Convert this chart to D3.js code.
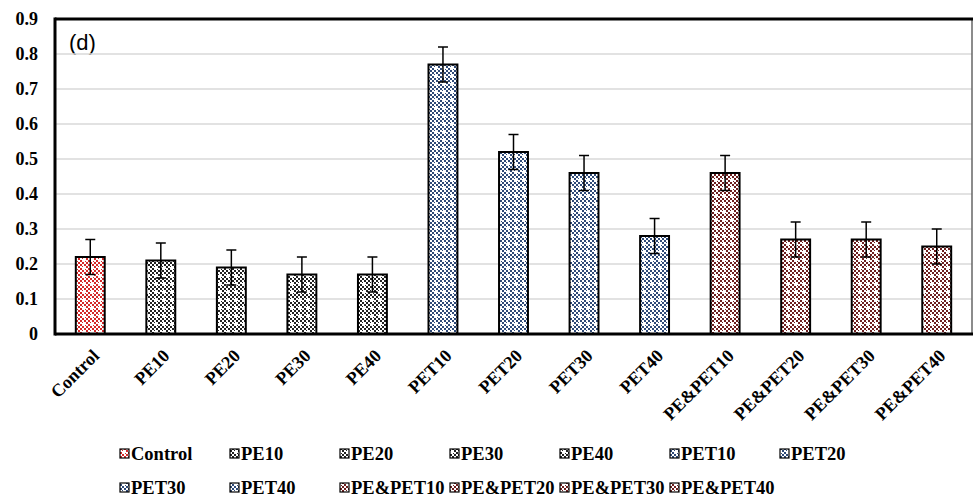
<!DOCTYPE html>
<html><head><meta charset="utf-8">
<script src="https://cdn.jsdelivr.net/npm/d3@7"></script>
</head><body style="margin:0">
<svg id="c" width="975" height="499" font-family="Liberation Serif, Tinos, Times New Roman"></svg>
<script>
const categories = ["Control","PE10","PE20","PE30","PE40","PET10","PET20","PET30","PET40","PE&PET10","PE&PET20","PE&PET30","PE&PET40"];
const values = [0.22,0.21,0.19,0.17,0.17,0.77,0.52,0.46,0.28,0.46,0.27,0.27,0.25];
const errors = [0.05,0.05,0.05,0.05,0.05,0.05,0.05,0.05,0.05,0.05,0.05,0.05,0.05];
const groups = ["ctrl","pe","pe","pe","pe","pet","pet","pet","pet","mix","mix","mix","mix"];
const yTicks = [0,0.1,0.2,0.3,0.4,0.5,0.6,0.7,0.8,0.9];
const groupColors = {ctrl:"#d42a2a", pe:"#222222", pet:"#2f4a78", mix:"#6e1f1f"};

const SERIF = "Liberation Serif, Tinos, Times New Roman";
const svg = d3.select("#c");
const m = {l:55, t:19, r:972, b:334};
const x = d3.scaleBand().domain(categories).range([m.l, m.r]).paddingInner(0.59).paddingOuter(0.295);
const y = d3.scaleLinear().domain([0,0.9]).range([m.b, m.t]);

// legend first (text)
const lg = svg.append("g");
categories.forEach((c,i) => {
  const col = i%7, row = Math.floor(i/7);
  const lx = 120 + col*110, ly = 454 + row*34;
  lg.append("text").attr("x",lx+11).attr("y",ly).attr("dy","0.35em")
    .attr("font-family",SERIF).attr("font-weight","bold").attr("font-size",18.5).text(c);
  lg.append("rect").attr("x",lx).attr("y",ly-5).attr("width",9).attr("height",9)
    .attr("fill",`url(#p_${groups[i]})`).attr("stroke","#000").attr("stroke-width",1.2);
});

// x labels
const xa = svg.append("g");
categories.forEach((c,i) => {
  const cx = x(c)+x.bandwidth()/2;
  xa.append("text").attr("transform",`translate(${cx+1},${m.b+14}) rotate(-45)`)
    .attr("text-anchor","end").attr("dy","0.7em")
    .attr("font-family",SERIF).attr("font-weight","bold").attr("font-size",18).text(c);
});

// y labels
const yAxis = d3.axisLeft(y).tickValues(yTicks).tickSize(0).tickPadding(17).tickFormat(d=>d===0?"0":d3.format(".1f")(d));
const ya = svg.append("g").attr("transform",`translate(${m.l},0)`).call(yAxis);
ya.select(".domain").remove();
ya.attr("font-family",SERIF).attr("font-size",18).attr("font-weight","bold");
ya.selectAll("text").attr("fill","#000");

// panel label
svg.append("text").attr("x",69).attr("y",50).attr("font-family","Liberation Sans, Arimo, Arial").attr("font-size",22).text("(d)");

// grid
svg.append("g").selectAll("line").data(yTicks.filter(t=>t>0 && t<0.9)).join("line")
  .attr("x1",m.l).attr("x2",m.r).attr("y1",d=>y(d)).attr("y2",d=>y(d))
  .attr("stroke","#d9d9d9").attr("stroke-width",1.5);

// bars
const bars = svg.append("g");
categories.forEach((c,i) => {
  bars.append("rect").attr("x",x(c)).attr("y",y(values[i])).attr("width",x.bandwidth())
    .attr("height",y(0)-y(values[i])).attr("fill",`url(#p_${groups[i]})`)
    .attr("stroke","#000").attr("stroke-width",2);
});
// error bars
const eb = svg.append("g").attr("stroke","#000").attr("stroke-width",1.5);
categories.forEach((c,i) => {
  const cx = x(c)+x.bandwidth()/2;
  eb.append("line").attr("x1",cx).attr("x2",cx).attr("y1",y(values[i]-errors[i])).attr("y2",y(values[i]+errors[i]));
  [values[i]-errors[i], values[i]+errors[i]].forEach(v =>
    eb.append("line").attr("x1",cx-5).attr("x2",cx+5).attr("y1",y(v)).attr("y2",y(v)));
});

// frame
svg.append("line").attr("x1",m.r).attr("x2",m.r).attr("y1",m.t).attr("y2",m.b).attr("stroke","#666").attr("stroke-width",1.5);
svg.append("line").attr("x1",m.l).attr("x2",m.r+1).attr("y1",m.t).attr("y2",m.t).attr("stroke","#000").attr("stroke-width",3);
svg.append("line").attr("x1",m.l).attr("x2",m.l).attr("y1",m.t-1.5).attr("y2",m.b+1.5).attr("stroke","#000").attr("stroke-width",3);
svg.append("line").attr("x1",m.l).attr("x2",m.r+1).attr("y1",m.b).attr("y2",m.b).attr("stroke","#000").attr("stroke-width",3);

// patterns
const defs = svg.append("defs");
Object.entries(groupColors).forEach(([k,c]) => {
  const p = defs.append("pattern").attr("id","p_"+k).attr("patternUnits","userSpaceOnUse")
    .attr("width",8).attr("height",8);
  p.append("rect").attr("width",8).attr("height",8).attr("fill","#fff");
  for (let i=0;i<4;i++) for (let j=0;j<4;j++) if ((i+j)%2===0)
    p.append("rect").attr("x",i*2).attr("y",j*2).attr("width",2).attr("height",2).attr("fill",c);
  p.append("rect").attr("x",3).attr("y",2).attr("width",2).attr("height",4).attr("fill","#fff");
  p.append("rect").attr("x",2).attr("y",3).attr("width",4).attr("height",2).attr("fill","#fff");
});
</script>
</body></html>
